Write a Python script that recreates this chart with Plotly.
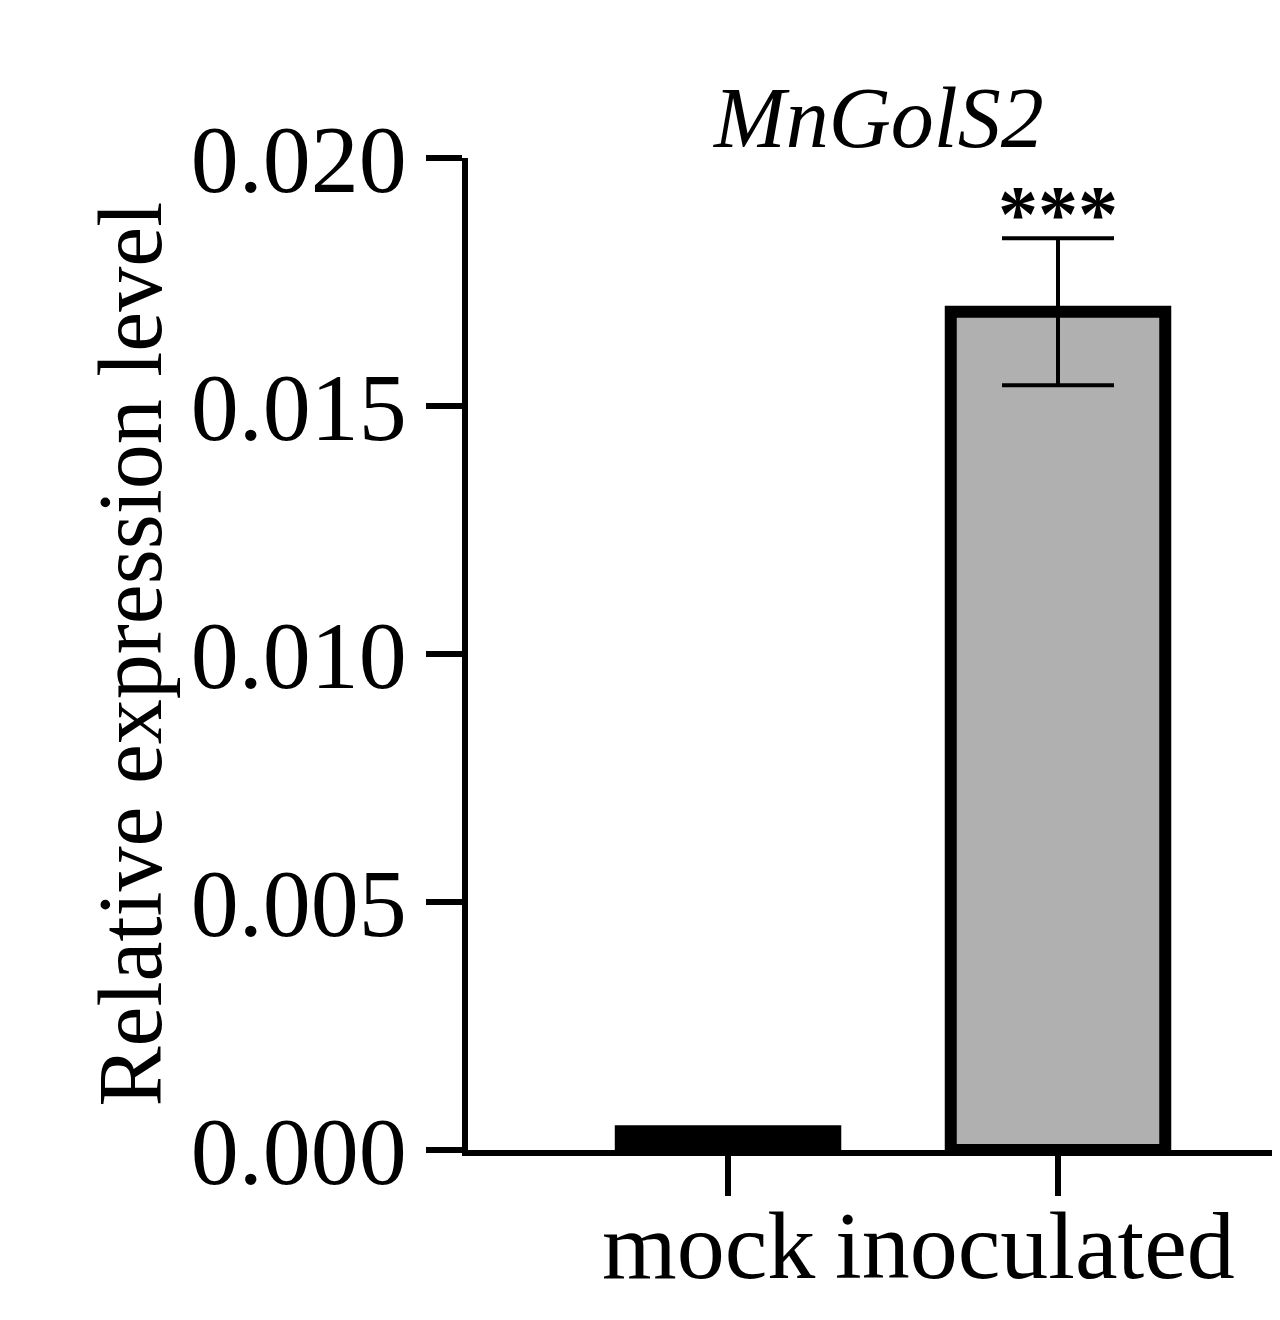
import plotly.graph_objects as go

categories = ["mock", "inoculated"]
values = [0.00038, 0.0169]
errors = [0.00003, 0.00148]
fills = ["#000000", "#b0b0b0"]
yticks = [0, 0.005, 0.010, 0.015, 0.020]
yticklabels = ["0.000", "0.005", "0.010", "0.015", "0.020"]
label_x = [-0.06, 0.93]

font = "Liberation Serif, Times New Roman, serif"
fig = go.Figure(go.Bar(
    x=[0, 1], y=values, width=0.65,
    marker=dict(color=fills, line=dict(color="black", width=12)),
    error_y=dict(type="data", array=errors, color="black", thickness=4, width=56),
))
fig.add_annotation(x=1, y=values[1] + errors[1], text="<b>***</b>", showarrow=False,
                   yanchor="bottom", yshift=-22, font=dict(family=font, size=80, color="black"))
fig.add_annotation(x=0.5, xref="paper", y=1, yref="paper", yshift=90, text="<i>MnGolS2</i>",
                   showarrow=False, font=dict(family=font, size=86, color="black"))
fig.add_annotation(x=0, xref="paper", xshift=-390, y=0.5, yref="paper", textangle=-90,
                   text="Relative expression level", showarrow=False,
                   font=dict(family=font, size=90, color="black"))
for cx, lab in zip(label_x, categories):
    fig.add_annotation(x=cx, y=0, yref="paper", yshift=-95, text=lab, showarrow=False,
                       yanchor="middle", font=dict(family=font, size=96, color="black"))
fig.update_layout(
    width=1280, height=1320, plot_bgcolor="white", paper_bgcolor="white",
    margin=dict(l=460, r=0, t=150, b=178), showlegend=False,
    font=dict(family=font, color="black"),
)
fig.update_xaxes(range=[-0.788, 1.697], tickvals=[0, 1], ticktext=["", ""],
                 ticks="outside", ticklen=40, tickwidth=6, tickcolor="black",
                 showline=True, linewidth=6, linecolor="black", showgrid=False,
                 zeroline=False)
fig.update_yaxes(range=[0, 0.020], tickvals=yticks, ticktext=yticklabels,
                 ticks="outside", ticklen=36, tickwidth=6, tickcolor="black",
                 showline=True, linewidth=6, linecolor="black", showgrid=False,
                 zeroline=False, tickfont=dict(size=96, family=font))
fig.write_html("out.html")
